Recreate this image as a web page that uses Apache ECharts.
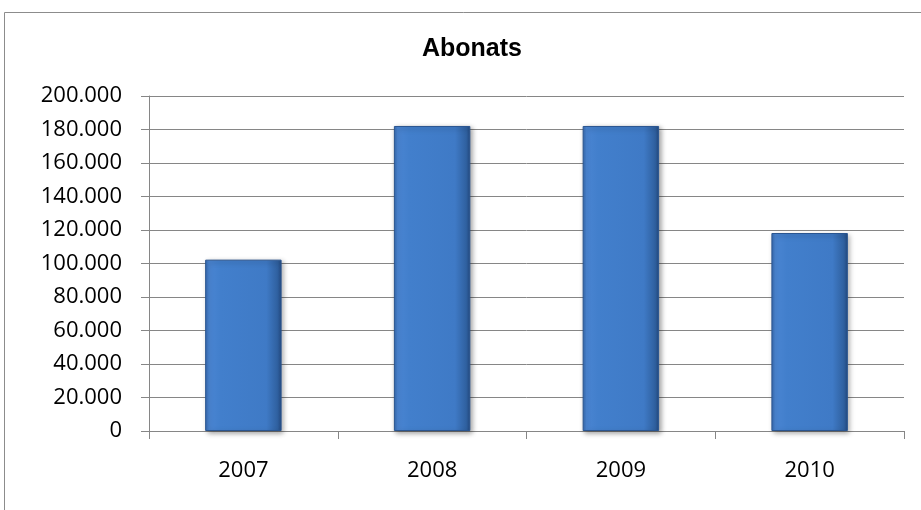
<!DOCTYPE html>
<html>
<head>
<meta charset="utf-8">
<script src="https://cdn.jsdelivr.net/npm/echarts@6/dist/echarts.min.js"></script>
<style>
  html, body { margin: 0; padding: 0; background: #fff; }
  #main { width: 921px; height: 510px; }
</style>
</head>
<body>
<div id="main"></div>
<script>
// chart data
var years = ['2007', '2008', '2009', '2010'];
var abonats = [102300, 182100, 182100, 118200];
var yTicks = [0, 20000, 40000, 60000, 80000, 100000, 120000, 140000, 160000, 180000, 200000];

function fmt(v) {
  if (v === 0) return '0';
  return String(v).replace(/\B(?=(\d{3})+(?!\d))/g, '.');
}

var chart = echarts.init(document.getElementById('main'));

var barColor = new echarts.graphic.LinearGradient(0, 0, 1, 0, [
  { offset: 0, color: '#3568ad' },
  { offset: 0.05, color: '#4a85d2' },
  { offset: 0.2, color: '#427fcc' },
  { offset: 0.8, color: '#3f7ac6' },
  { offset: 0.95, color: '#2f609f' },
  { offset: 1, color: '#23497f' }
]);

chart.setOption({
  backgroundColor: '#ffffff',
  animation: false,
  graphic: [{
    type: 'rect',
    shape: { x: 4.5, y: 12.5, width: 1000, height: 1000 },
    style: { fill: 'none', stroke: '#8c8c8c', lineWidth: 1 },
    silent: true
  }],
  title: {
    text: 'Abonats',
    left: 467,
    top: 32,
    textAlign: 'center',
    textStyle: {
      fontFamily: 'Liberation Sans',
      fontWeight: 'bold',
      fontSize: 25,
      color: '#000'
    }
  },
  grid: {
    left: 149,
    right: 17,
    top: 96,
    bottom: 79
  },
  xAxis: {
    type: 'category',
    data: years,
    axisLine: { lineStyle: { color: '#868686', width: 1 } },
    axisTick: { show: true, length: 8, lineStyle: { color: '#868686' } },
    axisLabel: {
      margin: 29,
      fontFamily: 'Open Sans',
      fontSize: 22,
      color: '#000'
    }
  },
  yAxis: {
    type: 'value',
    min: yTicks[0],
    max: yTicks[yTicks.length - 1],
    interval: 20000,
    axisLine: { show: true, lineStyle: { color: '#868686', width: 1 } },
    axisTick: { show: true, length: 8, lineStyle: { color: '#868686' } },
    splitLine: { lineStyle: { color: '#868686', width: 1 } },
    axisLabel: {
      margin: 27,
      fontFamily: 'Open Sans',
      fontSize: 22,
      color: '#000',
      formatter: fmt
    }
  },
  series: [{
    type: 'bar',
    data: abonats,
    barWidth: '40.5%',
    itemStyle: {
      color: barColor,
      borderColor: '#2a5590',
      borderWidth: 1,
      shadowColor: 'rgba(0,0,0,0.35)',
      shadowBlur: 5,
      shadowOffsetX: 2,
      shadowOffsetY: 2
    }
  }]
});
</script>
</body>
</html>
